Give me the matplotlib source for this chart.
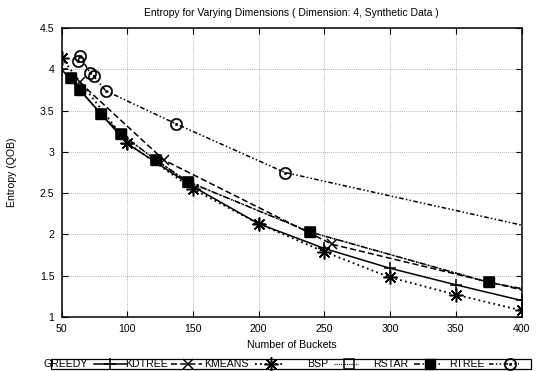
import matplotlib
matplotlib.use("Agg")
import matplotlib.pyplot as plt
from matplotlib.lines import Line2D
from matplotlib.patches import Rectangle

plt.rcParams["font.family"] = ["Liberation Sans", "DejaVu Sans"]

# Entropy (QOB) against number of buckets, one series per partitioning method
greedy_x = [50, 100, 150, 200, 250, 300, 350, 400]
greedy_y = [4.00, 3.10, 2.58, 2.13, 1.83, 1.59, 1.39, 1.20]

kdtree_x = [64, 128, 256, 512]
kdtree_y = [3.84, 2.90, 1.88, 0.90]

kmeans_x = [50, 100, 150, 200, 250, 300, 350, 400]
kmeans_y = [4.14, 3.11, 2.55, 2.13, 1.79, 1.48, 1.27, 1.08]

bsp_x = [57, 64, 80, 95, 122, 146, 239, 375, 480]
bsp_y = [3.89, 3.75, 3.46, 3.22, 2.90, 2.64, 2.03, 1.42, 1.10]

rstar_x = [57, 64, 80, 95, 122, 146, 239, 375, 480]
rstar_y = [3.89, 3.75, 3.46, 3.22, 2.90, 2.64, 2.03, 1.42, 1.10]

rtree_x = [62.5, 64, 72, 74.5, 83.6, 137, 220, 480]
rtree_y = [4.10, 4.16, 3.95, 3.92, 3.74, 3.34, 2.75, 1.83]

x_ticks = [50, 100, 150, 200, 250, 300, 350, 400]
y_ticks = [1, 1.5, 2, 2.5, 3, 3.5, 4, 4.5]
y_tick_labels = ["1", "1.5", "2", "2.5", "3", "3.5", "4", "4.5"]

W, H = 537, 371
FS = 7.6
fig = plt.figure(figsize=(W / 100, H / 100), dpi=100)
AX_L, AX_R, AX_T, AX_B = 61.5, 521.5, 28, 317
ax = fig.add_axes([AX_L / W, 1 - AX_B / H, (AX_R - AX_L) / W, (AX_B - AX_T) / H])


def fig_xy(px, py):
    return px / W, 1 - py / H


lw = 1.1
styles = {
    "GREEDY": dict(color="black", lw=lw, ls="-", marker="+", ms=9, mew=1.1),
    "KDTREE": dict(color="black", lw=lw, ls=(0, (4, 2)), marker="x", ms=7, mew=1.1),
    "KMEANS": dict(color="black", lw=1.3, ls=(0, (1, 1.8)), marker=(8, 2, 0),
                   ms=10, mew=1.1),
    "BSP": dict(color="black", lw=0.9, ls=(0, (0.8, 0.9)), marker="s", ms=6.5,
                mfc="none", mew=1.1),
    "RSTAR": dict(color="black", lw=lw, ls=(0, (4, 1.5, 1, 1.5)), marker="s",
                  ms=6.8, mfc="black"),
    "RTREE": dict(color="black", lw=lw, ls=(0, (3, 1.5, 1, 1.5, 1, 1.5)),
                  marker=r"$\odot$", ms=9, mew=0.3),
}

ax.plot(greedy_x, greedy_y, **styles["GREEDY"])
ax.plot(kdtree_x, kdtree_y, **styles["KDTREE"])
ax.plot(kmeans_x, kmeans_y, **styles["KMEANS"])
ax.plot(bsp_x, bsp_y, **styles["BSP"])
ax.plot(rstar_x, rstar_y, **styles["RSTAR"])
ax.plot(rtree_x, rtree_y, **styles["RTREE"])

ax.set_xlim(50, 400)
ax.set_ylim(1, 4.5)
ax.set_xticks(x_ticks)
ax.set_yticks(y_ticks)
ax.set_yticklabels(y_tick_labels)
ax.tick_params(direction="in", length=4, width=0.8, labelsize=FS,
               top=True, right=True, pad=5, colors="black")
ax.grid(True, color="#9a9a9a", ls=(0, (1, 1.5)), lw=0.6)
for s in ax.spines.values():
    s.set_linewidth(1.1)

fig.text(*fig_xy(291, 13), "Entropy for Varying Dimensions ( Dimension: 4, Synthetic Data )",
         fontsize=7.5, ha="center", va="center")
fig.text(*fig_xy(292, 345), "Number of Buckets", fontsize=FS, ha="center", va="center")
fig.text(*fig_xy(12, 172), "Entropy (QOB)", fontsize=FS, ha="center", va="center",
         rotation=90)

# Key row along the bottom: label, line sample, point
fig.patches.append(Rectangle(fig_xy(50.7, 369), (531 - 50.7) / W, 10 / H,
                             transform=fig.transFigure, fill=False,
                             edgecolor="black", lw=0.9))
key = [
    ("GREEDY", 88, 94, 127, 110),
    ("KDTREE", 168, 171, 202, 188),
    ("KMEANS", 249, 255, 283, 271),
    ("BSP", 328, 334, 358, 349),
    ("RSTAR", 408, 414, 440, 430),
    ("RTREE", 485, 489, 519, 510),
]
ky = 364
for name, text_end, x0, x1, xm in key:
    st = dict(styles[name])
    fig.text(*fig_xy(text_end, ky), name, fontsize=FS, ha="right", va="center")
    line_kw = {k: v for k, v in st.items() if not k.startswith("m")}
    fig.lines.append(Line2D([x0 / W, x1 / W], [1 - ky / H, 1 - ky / H],
                            transform=fig.transFigure, **line_kw))
    mk = {k: v for k, v in st.items() if k.startswith("m") or k == "color"}
    fig.lines.append(Line2D([xm / W], [1 - ky / H], transform=fig.transFigure,
                            ls="none", **mk))

fig.savefig("out.png", dpi=100)
